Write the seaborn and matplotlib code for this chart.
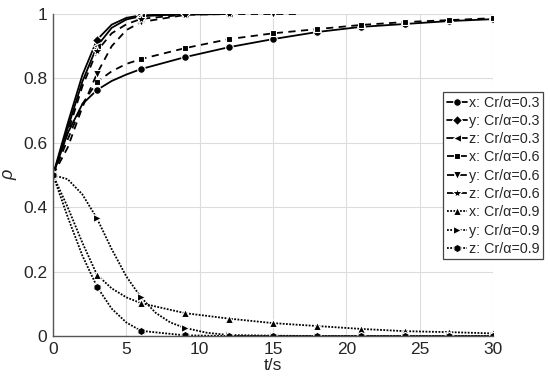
import matplotlib
matplotlib.use("Agg")
import matplotlib.pyplot as plt
import seaborn as sns

# sample times (s) and rho values
t_x03 = [0, 1, 2, 3, 4, 5, 6, 9, 12, 15, 18, 21, 24, 27, 30]
r_x03 = [0.5, 0.63, 0.72, 0.764, 0.792, 0.812, 0.829, 0.866, 0.897, 0.922, 0.944, 0.96, 0.969, 0.978, 0.984]

t_y03 = [0, 1, 2, 3, 4, 5, 6, 9, 12]
r_y03 = [0.5, 0.66, 0.81, 0.92, 0.967, 0.988, 0.996, 1.0, 1.0]

t_z03 = [0, 1, 2, 3, 4, 5, 6, 9, 12]
r_z03 = [0.5, 0.645, 0.79, 0.90, 0.957, 0.983, 0.993, 1.0, 1.0]

t_x06 = [0, 1, 2, 3, 4, 5, 6, 9, 12, 15, 18, 21, 24, 27, 30]
r_x06 = [0.5, 0.61, 0.72, 0.789, 0.822, 0.845, 0.86, 0.894, 0.922, 0.94, 0.953, 0.966, 0.975, 0.981, 0.987]

t_y06 = [0, 1, 2, 3, 4, 5, 6, 9, 12, 15, 16.7]
r_y06 = [0.5, 0.585, 0.71, 0.815, 0.9, 0.95, 0.975, 0.997, 1.0, 1.0, 1.0]

t_z06 = [0, 1, 2, 3, 4, 5, 6, 9, 12]
r_z06 = [0.5, 0.63, 0.775, 0.885, 0.94, 0.968, 0.985, 0.998, 1.0]

t_x09 = [0, 1, 2, 3, 4, 5, 6, 9, 12, 15, 18, 21, 24, 27, 30]
r_x09 = [0.5, 0.4, 0.29, 0.19, 0.148, 0.12, 0.102, 0.071, 0.054, 0.04, 0.031, 0.022, 0.015, 0.012, 0.008]

t_y09 = [0, 1, 2, 3, 4, 5, 6, 7, 8, 9, 10.5, 12, 15, 18, 21, 24, 27, 30]
r_y09 = [0.5, 0.487, 0.44, 0.365, 0.27, 0.185, 0.12, 0.072, 0.042, 0.025, 0.01, 0.003, 0.001, 0.0, 0.0, 0.0, 0.0, 0.0]

t_z09 = [0, 1, 2, 3, 4, 5, 6, 9, 12, 15, 18, 21, 24, 27, 30]
r_z09 = [0.5, 0.37, 0.25, 0.153, 0.085, 0.042, 0.016, 0.002, 0.0, 0.0, 0.0, 0.0, 0.0, 0.0, 0.0]

labels = ["x: Cr/α=0.3", "y: Cr/α=0.3", "z: Cr/α=0.3",
          "x: Cr/α=0.6", "y: Cr/α=0.6", "z: Cr/α=0.6",
          "x: Cr/α=0.9", "y: Cr/α=0.9", "z: Cr/α=0.9"]

x_ticks = [0, 5, 10, 15, 20, 25, 30]
y_ticks = [0, 0.2, 0.4, 0.6, 0.8, 1.0]
y_ticklabels = ["0", "0.2", "0.4", "0.6", "0.8", "1"]

series = [(t_x03, r_x03), (t_y03, r_y03), (t_z03, r_z03),
          (t_x06, r_x06), (t_y06, r_y06), (t_z06, r_z06),
          (t_x09, r_x09), (t_y09, r_y09), (t_z09, r_z09)]
markers = ["o", "D", "<", "s", "v", "*", "^", ">", "h"]
msizes = [5.5, 5, 6, 5, 6, 8, 6, 6, 6]
solid = "-"
dashed = (0, (4, 3))
dotted = (0, (1, 0.8))
styles = [solid] * 3 + [dashed] * 3 + [dotted] * 3

sns.set_style("white")
plt.rcParams["font.family"] = ["Liberation Sans", "DejaVu Sans"]

fig = plt.figure(figsize=(5.5, 3.86), dpi=100)
ax = fig.add_axes([53 / 550, 50 / 386, 440 / 550, 322 / 386])

for (t, r), lab, mk, ms, ls in zip(series, labels, markers, msizes, styles):
    every = [i for i, v in enumerate(t) if abs(v / 3 - round(v / 3)) < 1e-9]
    sns.lineplot(x=t, y=r, ax=ax, color="black", linestyle=ls, linewidth=1.3,
                 marker=mk, markersize=ms, markevery=every, markeredgewidth=0.8,
                 label=lab, sort=False)

ax.set_xlim(0, 30)
ax.set_ylim(0, 1)
ax.set_xticks(x_ticks)
ax.set_yticks(y_ticks)
ax.set_yticklabels(y_ticklabels)
ax.tick_params(axis="both", labelsize=12.5, length=0, pad=4)
ax.grid(True, color="#dcdcdc", linewidth=0.8)
ax.set_axisbelow(True)
for side in ["top", "right"]:
    ax.spines[side].set_visible(False)
for side in ["left", "bottom"]:
    ax.spines[side].set_color("#555555")
    ax.spines[side].set_linewidth(1.0)

ax.set_xlabel("t/s", fontsize=12.5, labelpad=1)
ax.set_ylabel("ρ", fontsize=13, style="italic", labelpad=4)

handles, labs = ax.get_legend_handles_labels()
leg = ax.legend(handles, labs, loc="upper right", bbox_to_anchor=(543 / 550, 1 - 92 / 386),
                bbox_transform=fig.transFigure, fontsize=10.3, handlelength=1.4,
                handletextpad=0.15, labelspacing=0.3, borderpad=0.25, borderaxespad=0,
                frameon=True, fancybox=False, framealpha=1)
leg.get_frame().set_edgecolor("#444444")
leg.get_frame().set_linewidth(0.9)

fig.savefig("out.png", dpi=100)
